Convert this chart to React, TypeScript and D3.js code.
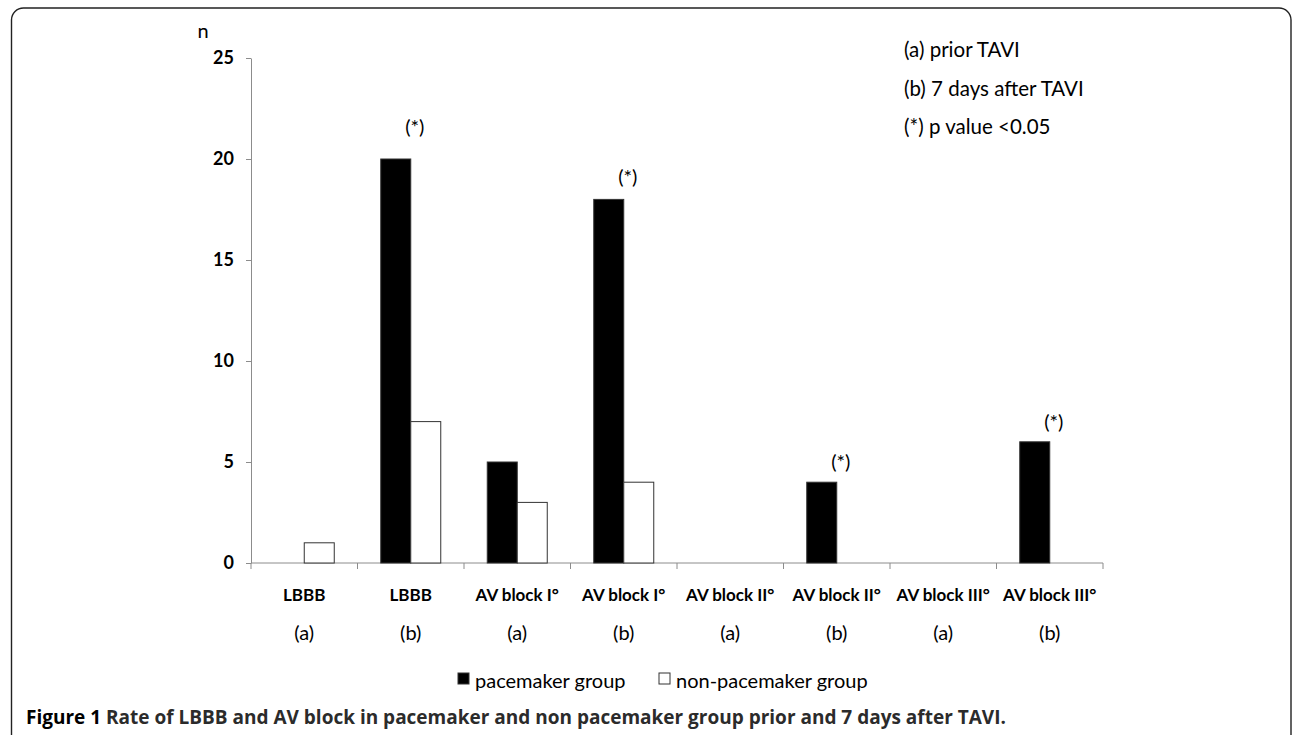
import React, { useEffect, useRef } from "react";
import * as d3 from "d3";

// categories along the x axis
const conditions = [
  "LBBB",
  "LBBB",
  "AV block I°",
  "AV block I°",
  "AV block II°",
  "AV block II°",
  "AV block III°",
  "AV block III°",
];
const phases = ["(a)", "(b)", "(a)", "(b)", "(a)", "(b)", "(a)", "(b)"];

// counts (n)
const pacemaker = [0, 20, 5, 18, 0, 4, 0, 6];
const nonPacemaker = [1, 7, 3, 4, 0, 0, 0, 0];

// where the (*) marks sit, in n (null = no mark)
const starLevel: (number | null)[] = [null, 21.6, null, 19.1, null, 5.0, null, 7.0];

const yTicks = [0, 5, 10, 15, 20, 25];
const seriesNames = ["pacemaker group", "non-pacemaker group"];
const notes = ["(a) prior TAVI", "(b) 7 days after TAVI", "(*) p value <0.05"];

const chartFont = "Lato, 'Open Sans', sans-serif";

export default function App() {
  const svgRef = useRef<SVGSVGElement>(null);

  useEffect(() => {
    const width = 1292;
    const height = 735;
    const margin = { top: 58, left: 251, right: 1103, bottom: 563 };

    const svg = d3
      .select(svgRef.current)
      .attr("width", width)
      .attr("height", height);
    svg.selectAll("*").remove();

    svg
      .append("rect")
      .attr("width", width)
      .attr("height", height)
      .attr("fill", "#fff");

    // rounded frame, cut by the page edges
    svg
      .append("rect")
      .attr("x", 11.5)
      .attr("y", 8)
      .attr("width", 1279.5)
      .attr("height", 742)
      .attr("rx", 12)
      .attr("fill", "none")
      .attr("stroke", "#222")
      .attr("stroke-width", 1.4);

    const idx = conditions.map((_, i) => i);
    const x = d3
      .scaleBand<number>()
      .domain(idx)
      .range([margin.left, margin.right])
      .padding(0);
    const bw = x.bandwidth();
    const barW = 30;

    const y = d3
      .scaleLinear()
      .domain([0, 25])
      .range([margin.bottom, margin.top]);

    // y axis
    const yAxis = svg
      .append("g")
      .attr("transform", `translate(${margin.left},0)`)
      .call(d3.axisLeft(y).tickValues(yTicks).tickSize(5).tickSizeOuter(0).tickPadding(12));
    yAxis.select(".domain").attr("stroke", "#8c8c8c");
    yAxis.selectAll("line").attr("stroke", "#8c8c8c");
    yAxis
      .selectAll("text")
      .attr("font-family", chartFont)
      .attr("font-size", 18)
      .attr("font-weight", "bold")
      .attr("fill", "#000");

    svg
      .append("text")
      .attr("x", 203)
      .attr("y", 38)
      .attr("text-anchor", "middle")
      .attr("font-family", chartFont)
      .attr("font-size", 20)
      .text("n");

    // x axis
    const xAxis = svg
      .append("g")
      .attr("transform", `translate(0,${margin.bottom})`);
    xAxis
      .append("line")
      .attr("x1", margin.left)
      .attr("x2", margin.right)
      .attr("stroke", "#8c8c8c");
    xAxis
      .selectAll("line.tick")
      .data([...idx, idx.length])
      .join("line")
      .attr("class", "tick")
      .attr("x1", (d) => (d < idx.length ? x(d)! : margin.right))
      .attr("x2", (d) => (d < idx.length ? x(d)! : margin.right))
      .attr("y1", 0)
      .attr("y2", 6)
      .attr("stroke", "#8c8c8c");

    xAxis
      .selectAll("text.cond")
      .data(idx)
      .join("text")
      .attr("class", "cond")
      .attr("x", (d) => x(d)! + bw / 2)
      .attr("y", 38)
      .attr("text-anchor", "middle")
      .attr("font-family", chartFont)
      .attr("font-size", 17)
      .attr("font-weight", "bold")
      .text((d) => conditions[d]);

    xAxis
      .selectAll("text.phase")
      .data(idx)
      .join("text")
      .attr("class", "phase")
      .attr("x", (d) => x(d)! + bw / 2)
      .attr("y", 77)
      .attr("text-anchor", "middle")
      .attr("font-family", chartFont)
      .attr("font-size", 20)
      .text((d) => phases[d]);

    // bars
    const x1 = d3
      .scaleBand<string>()
      .domain(seriesNames)
      .range([bw / 2 - barW, bw / 2 + barW]);
    const values = [pacemaker, nonPacemaker];
    const fills = ["#000", "#fff"];

    seriesNames.forEach((s, si) => {
      svg
        .append("g")
        .selectAll("rect")
        .data(idx.filter((i) => values[si][i] > 0))
        .join("rect")
        .attr("x", (i) => x(i)! + x1(s)!)
        .attr("y", (i) => y(values[si][i]))
        .attr("width", x1.bandwidth())
        .attr("height", (i) => y(0) - y(values[si][i]))
        .attr("fill", fills[si])
        .attr("stroke", "#333")
        .attr("stroke-width", 1);
    });

    // significance marks
    svg
      .append("g")
      .selectAll("text")
      .data(idx.filter((i) => starLevel[i] !== null))
      .join("text")
      .attr("x", (i) => x(i)! + bw / 2 + 4)
      .attr("y", (i) => y(starLevel[i]!) + 7)
      .attr("text-anchor", "middle")
      .attr("font-family", chartFont)
      .attr("font-size", 20)
      .text("(*)");

    // notes in the top right
    svg
      .append("g")
      .selectAll("text")
      .data(notes)
      .join("text")
      .attr("x", 904)
      .attr("y", (_, i) => 57 + i * 38.5)
      .attr("font-family", chartFont)
      .attr("font-size", 20.5)
      .text((d) => d);

    // legend
    const legendX = [458, 659];
    const legend = svg.append("g");
    seriesNames.forEach((s, si) => {
      legend
        .append("rect")
        .attr("x", legendX[si])
        .attr("y", 673)
        .attr("width", 11)
        .attr("height", 11)
        .attr("fill", fills[si])
        .attr("stroke", "#333")
        .attr("stroke-width", 1);
      legend
        .append("text")
        .attr("x", legendX[si] + 17)
        .attr("y", 688)
        .attr("font-family", chartFont)
        .attr("font-size", 20)
        .text(s);
    });

    // caption
    const caption = svg
      .append("text")
      .attr("x", 26)
      .attr("y", 724)
      .attr("font-family", "'Open Sans', sans-serif")
      .attr("font-size", 19)
      .attr("font-weight", "bold");
    caption.append("tspan").attr("fill", "#000").text("Figure 1 ");
    caption
      .append("tspan")
      .attr("fill", "#2b2b2b")
      .text(
        "Rate of LBBB and AV block in pacemaker and non pacemaker group prior and 7 days after TAVI.",
      );
  }, []);

  return (
    <svg
      ref={svgRef}
      style={{ position: "absolute", left: 0, top: 0, display: "block" }}
    />
  );
}
